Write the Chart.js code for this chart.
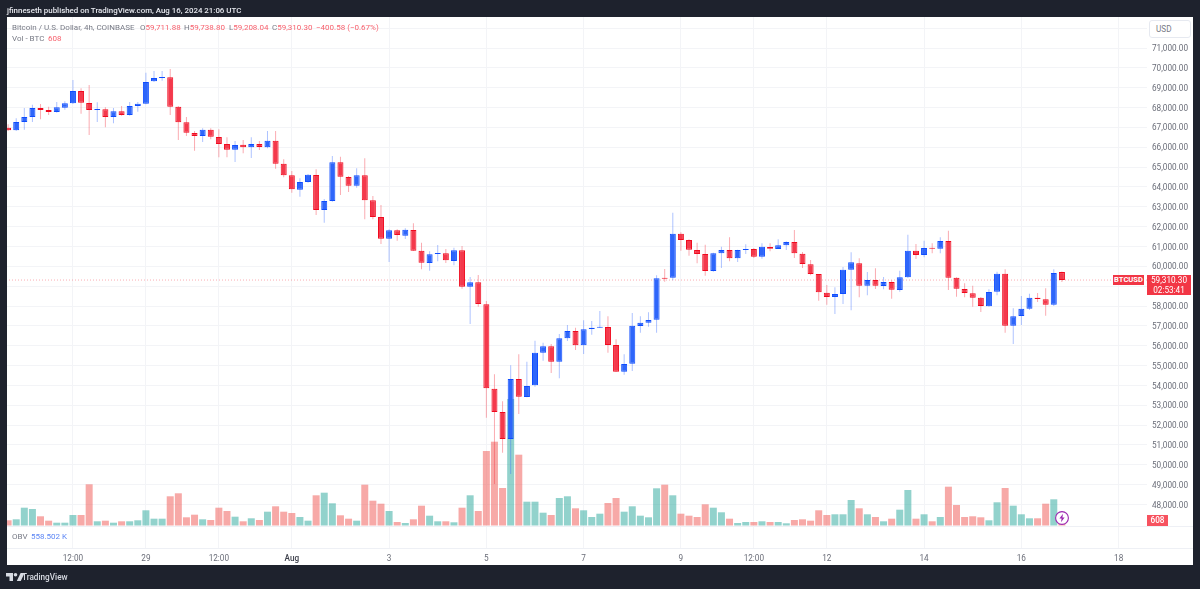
<!DOCTYPE html>
<html>
<head>
<meta charset="utf-8">
<title>BTCUSD 4h</title>
<script src="https://cdn.jsdelivr.net/npm/chart.js@4/dist/chart.umd.min.js"></script>
<style>
  html, body { margin: 0; padding: 0; }
  body { width: 1200px; height: 589px; background: #1e222d; overflow: hidden; position: relative; font-family: Roboto, sans-serif; }
  #panel { position: absolute; left: 7px; top: 17px; width: 1186px; height: 548px; background: #fff; }
  .rule { position: absolute; height: 1px; background: #eef0f5; }
  canvas { position: absolute; left: 0; top: 0; }
  .t { position: absolute; white-space: nowrap; font-size: 8px; line-height: 11px; color: #787b86; }
  .r { color: #f7626e; }
  .tag { position: absolute; background: #f23645; color: #fff; font-size: 8.2px; text-align: center; white-space: nowrap; }
  #usd { position: absolute; left: 1149px; top: 20px; width: 40px; height: 16px; border: 1px solid #e6e9f0; border-radius: 3px; background: #fff; box-sizing: content-box; color: #787b86; font-size: 8.2px; line-height: 16px; text-indent: 6px; }
  #badge { position: absolute; width: 16px; height: 16px; }
</style>
</head>
<body>
<div id="panel"></div>
<div class="rule" style="left:7px;top:548px;width:1186px"></div>
<div class="rule" style="left:1147px;top:526px;width:46px"></div>
<canvas id="chart" width="1200" height="589"></canvas>

<div class="t" style="left:7px;top:5px;color:#e6e8ee;font-size:7.9px;font-weight:500">jfinneseth published on TradingView.com, Aug 16, 2024 21:06 UTC</div>
<div class="t" style="left:12px;top:22px">Bitcoin / U.S. Dollar, 4h, COINBASE</div>
<div class="t" style="left:140px;top:22px">O<span class="r">59,711.88</span></div>
<div class="t" style="left:184px;top:22px">H<span class="r">59,738.80</span></div>
<div class="t" style="left:229px;top:22px">L<span class="r">59,208.04</span></div>
<div class="t" style="left:272px;top:22px">C<span class="r">59,310.30</span></div>
<div class="t r" style="left:316px;top:22px">−400.58 (−0.67%)</div>
<div class="t" style="left:12px;top:33px">Vol - BTC</div>
<div class="t r" style="left:48px;top:33px">608</div>
<div class="t" style="left:12px;top:531px">OBV</div>
<div class="t" style="left:31px;top:531px;color:#5c86f5">558.502 K</div>
<div id="usd">USD</div>

<div class="tag" id="symbolTag" style="left:1113px;width:31px;height:10px;line-height:10px;font-weight:700;font-size:7.6px">BTCUSD</div>
<div class="tag" id="priceTag" style="left:1147px;width:44px;height:20px;line-height:10px">59,310.30<br>02:53:41</div>
<div class="tag" id="volTag" style="left:1147px;width:21px;height:11px;line-height:11px;background:#f7525f;font-weight:500">608</div>

<svg id="badge" viewBox="0 0 16 16">
  <circle cx="8" cy="8" r="6.4" fill="#fff" stroke="#9c27b0" stroke-width="1.1"/>
  <path d="M9 3.8 5.4 8.6h2.2L7 12.2l3.6-4.8H8.4z" fill="#9c27b0"/>
</svg>

<svg style="position:absolute;left:6px;top:573px" width="19" height="8" viewBox="0 0 19 8" fill="#d8dbe3">
  <path d="M0 0h7v8H3.5V3.5H0z"/><circle cx="9.5" cy="1.8" r="1.8"/><path d="M14.6 0h4l-3.8 8h-4z"/>
</svg>
<div class="t" style="left:22px;top:572px;color:#d8dbe3;font-size:8.2px;font-weight:500">TradingView</div>

<script>
// 4h candles, Jul 26 04:00 through Aug 16 20:00
const opens = [
  66986, 66852, 67271, 67523, 67977, 67876, 67775, 67994, 68212, 68833,
  68229, 67876, 67910, 67523, 67809, 67624, 68078, 68195, 69320, 69488,
  69522, 68044, 67255, 66717, 66566, 66885, 66516, 66163, 65878, 66130,
  65995, 66163, 65995, 66331, 65172, 64585, 63863, 64249, 64602, 62838,
  63292, 65240, 64501, 64064, 64585, 63325, 62486, 61394, 61814, 61545,
  61831, 60790, 60168, 60622, 60655, 60269, 60807, 58976, 59194, 58086,
  53837, 52662, 51301, 54324, 53417, 54005, 55651, 55970, 55197, 56373,
  56742, 56020, 56843, 56910, 56944, 56037, 54694, 55097, 56994, 57162,
  57313, 59412, 59429, 61646, 61327, 60823, 60621, 59765, 60655, 60823,
  60403, 60823, 60873, 60487, 60974, 60873, 61058, 61226, 60638, 60101,
  59614, 58673, 58455, 58606, 59832, 60151, 59026, 59311, 59009, 59211,
  58807, 59446, 60789, 60571, 60923, 60890, 61276, 59429, 58858, 58640,
  58421, 57985, 58724, 59630, 57011, 57498, 57867, 58421, 58337, 58069,
  59711.88
];
const highs = [
  67154, 67456, 67977, 68145, 68178, 68044, 68279, 68313, 69387, 68968,
  69136, 68262, 68010, 67977, 68078, 68279, 68279, 69757, 69841, 69841,
  69942, 68078, 67523, 66818, 66952, 66952, 66902, 66499, 66314, 66365,
  66499, 66314, 66818, 66818, 65391, 64803, 64434, 64652, 64887, 63393,
  65559, 65525, 64551, 64938, 65441, 63544, 63090, 61864, 61864, 61915,
  62167, 61193, 60756, 61075, 60874, 60941, 61025, 59463, 59564, 58254,
  54559, 53199, 55013, 55567, 55197, 56255, 56155, 56087, 56591, 57045,
  56910, 57280, 57246, 57750, 57481, 56323, 55567, 57649, 57481, 57683,
  59547, 59866, 62704, 61713, 61360, 61192, 61092, 60689, 60991, 61461,
  60840, 61109, 60924, 61159, 61159, 61360, 61260, 61831, 60722, 60319,
  59614, 59060, 58942, 59967, 60705, 60403, 59714, 59899, 59462, 59294,
  59782, 61595, 61125, 61293, 61158, 61461, 61797, 59446, 59143, 59026,
  58455, 58841, 59731, 59849, 57884, 58505, 58623, 58656, 58891, 59849,
  59738.80
];
const lows = [
  66818, 66818, 66885, 67271, 67406, 67624, 67742, 67893, 68178, 67691,
  66617, 67271, 67003, 67204, 67591, 67591, 67792, 68162, 69287, 69354,
  67624, 66365, 66566, 65827, 66264, 66398, 65491, 65491, 65256, 65693,
  65458, 65861, 65945, 64920, 64484, 63712, 63510, 64216, 62587, 62200,
  63258, 63594, 63745, 63964, 62368, 62368, 61125, 60219, 61294, 61377,
  60773, 59849, 59782, 60252, 60168, 60051, 58875, 57095, 57968, 52376,
  49035, 50613, 49538, 52561, 53400, 53938, 55248, 54626, 54358, 56239,
  55785, 55584, 56558, 56893, 55651, 54677, 54543, 54727, 56658, 56961,
  56658, 59228, 59295, 60789, 60538, 60151, 59530, 59732, 59916, 60252,
  60218, 60622, 60420, 60386, 60756, 60873, 60823, 60420, 59916, 59547,
  58270, 58069, 57599, 58103, 57783, 58438, 58539, 58858, 58841, 58371,
  58723, 59412, 60369, 60453, 60655, 60655, 58807, 58472, 58438, 57968,
  57699, 57968, 58539, 56658, 56087, 57044, 57800, 58203, 57514, 58001,
  59208.04
];
const closes = [
  66852, 67271, 67523, 67977, 67876, 67775, 68010, 68212, 68833, 68245,
  67876, 67926, 67523, 67809, 67624, 68078, 68195, 69287, 69488, 69539,
  68044, 67255, 66734, 66566, 66885, 66533, 66163, 65878, 66113, 65995,
  66163, 66012, 66331, 65172, 64585, 63880, 64249, 64619, 62838, 63292,
  65240, 64518, 64064, 64585, 63325, 62486, 61394, 61814, 61579, 61848,
  60790, 60185, 60605, 60672, 60303, 60807, 58976, 59194, 58103, 53854,
  52662, 51301, 54324, 53434, 53971, 55651, 55970, 55197, 56373, 56742,
  56020, 56826, 56910, 56944, 56037, 54694, 55080, 57011, 57162, 57296,
  59396, 59379, 61646, 61327, 60840, 60621, 59765, 60655, 60823, 60403,
  60823, 60873, 60487, 60991, 60890, 61058, 61226, 60655, 60118, 59614,
  58690, 58455, 58606, 59832, 60202, 59026, 59311, 59026, 59211, 58824,
  59446, 60789, 60571, 60923, 60890, 61276, 59429, 58875, 58656, 58421,
  58001, 58707, 59630, 57011, 57481, 57867, 58421, 58354, 58069, 59664,
  59310.30
];
const volumes = [
  1226, 1440, 3935, 3655, 2086, 1140, 710, 710, 2365, 2365,
  8966, 1010, 1140, 710, 1010, 1010, 1226, 3376, 1570, 1570,
  6386, 7031, 1870, 2430, 1440, 1290, 3935, 3225, 2000, 1010,
  1656, 1290, 3075, 4236, 3075, 2795, 1935, 1140, 6600, 7160,
  4880, 2300, 1570, 1140, 8880, 5440, 4795, 3225, 860, 645,
  1440, 4365, 2215, 1010, 1010, 795, 3935, 6600, 3225, 16125,
  18125, 8170, 27305, 15330, 5225, 5225, 2860, 2365, 6020, 6386,
  3805, 3376, 1935, 2645, 4945, 6020, 3075, 4236, 2215, 1870,
  8105, 8880, 6600, 2645, 2215, 1935, 4666, 3935, 2946, 1570,
  645, 860, 860, 1010, 860, 860, 580, 1290, 1440, 1140,
  3376, 2365, 2516, 2516, 5590, 3805, 2516, 1935, 1010, 1570,
  3505, 7740, 1570, 2516, 1010, 1935, 8450, 4515, 1935, 2086,
  1870, 1226, 5096, 8170, 4365, 2516, 1656, 1656, 4795, 5740,
  608
];
const xTickIdx = [8, 17, 26, 35, 47, 59, 71, 83, 92, 101, 113, 125, 137];
const xTickLabels = ["12:00", "29", "12:00", "Aug", "3", "5", "7", "9", "12:00", "12", "14", "16", "18"];
const priceTicks = [72000, 71000, 70000, 69000, 68000, 67000, 66000, 65000, 64000, 63000, 62000, 61000,
  60000, 59000, 58000, 57000, 56000, 55000, 54000, 53000, 52000, 51000, 50000, 49000, 48000];

const last = closes.length - 1;
const isUp = i => closes[i] >= opens[i];
const isMonth = ctx => ctx.tick && xTickLabels[xTickIdx.indexOf(ctx.tick.value)] === "Aug";

const bodies = opens.map((o, i) => ({ x: i, y: [o, closes[i]] }));
const wicks = lows.map((l, i) => ({ x: i, y: [l, highs[i]] }));
const volBars = volumes.map((v, i) => ({ x: i, y: v }));

const chart = new Chart(document.getElementById("chart"), {
  type: "bar",
  data: {
    datasets: [
      {
        label: "Volume",
        data: volBars,
        yAxisID: "vol",
        order: 4,
        barThickness: 7,
        inflateAmount: 0,
        backgroundColor: volBars.map((b, i) => isUp(i) ? "rgba(38,166,154,0.5)" : "rgba(239,83,80,0.5)"),
      },
      {
        type: "line",
        label: "Last",
        data: [{ x: -1, y: closes[last] }, { x: 141, y: closes[last] }],
        yAxisID: "y",
        order: 3,
        borderColor: "rgba(242,54,69,0.42)",
        borderWidth: 1,
        borderDash: [1, 2],
        pointRadius: 0,
      },
      {
        label: "Wick",
        data: wicks,
        yAxisID: "y",
        order: 2,
        barThickness: 1,
        inflateAmount: 0,
        backgroundColor: wicks.map((w, i) => isUp(i) ? "rgba(41,98,255,0.38)" : "rgba(242,54,69,0.42)"),
      },
      {
        label: "Body",
        data: bodies,
        yAxisID: "y",
        order: 1,
        barThickness: 6,
        minBarLength: 1,
        inflateAmount: 0,
        borderWidth: 1,
        borderSkipped: false,
        backgroundColor: bodies.map((b, i) => isUp(i) ? "#2e66fa" : "#f4394c"),
        borderColor: bodies.map((b, i) => isUp(i) ? "#0f4dff" : "#f00a1e"),
      },
    ],
  },
  options: {
    responsive: false,
    animation: false,
    events: [],
    layout: { padding: { left: 7, top: 17, right: 0, bottom: 0 } },
    plugins: { legend: { display: false }, tooltip: { enabled: false } },
    datasets: { bar: { grouped: false } },
    scales: {
      x: {
        type: "linear",
        offset: false,
        min: -0.136,
        max: 140.5,
        grid: { offset: false, color: "#f3f4f7", drawTicks: false },
        border: { display: false },
        afterBuildTicks: axis => { axis.ticks = xTickIdx.map(v => ({ value: v })); },
        afterFit: axis => { axis.height = 41; },
        ticks: {
          autoSkip: false,
          maxRotation: 0,
          padding: 6,
          color: ctx => isMonth(ctx) ? "#3c3f4a" : "#6b6e79",
          font: ctx => ({ family: "Roboto", size: 8.2, weight: isMonth(ctx) ? "500" : "400" }),
          callback: v => xTickLabels[xTickIdx.indexOf(v)],
        },
      },
      y: {
        position: "right",
        min: 45811,
        max: 72562,
        grid: { color: "#f3f4f7", drawTicks: false },
        border: { display: false },
        afterBuildTicks: axis => { axis.ticks = priceTicks.map(v => ({ value: v })); },
        afterFit: axis => { axis.width = 53; },
        ticks: {
          autoSkip: false,
          padding: 5,
          labelOffset: 1,
          color: "#6b6e79",
          font: { family: "Roboto", size: 8.2 },
          // 72,000 sits under the currency box
          callback: v => v > 71000 ? "" : v.toLocaleString("en-US", { minimumFractionDigits: 2 }),
        },
      },
      // pane split sits at zero volume
      vol: {
        position: "left",
        min: -4730,
        max: 109435,
        grid: { color: "#eef0f5", drawTicks: false },
        border: { display: false },
        afterBuildTicks: axis => { axis.ticks = [{ value: 0 }]; },
        afterFit: axis => { axis.width = 0; },
        ticks: { display: false },
      },
    },
  },
});

// axis tags follow the last candle
const priceY = chart.scales.y.getPixelForValue(closes[last]);
const volY = chart.scales.vol.getPixelForValue(0);
const lastX = chart.scales.x.getPixelForValue(last);
document.getElementById("symbolTag").style.top = (priceY - 5) + "px";
document.getElementById("priceTag").style.top = (priceY - 5) + "px";
document.getElementById("volTag").style.top = (volY - 11) + "px";
document.getElementById("badge").style.left = (lastX - 8) + "px";
document.getElementById("badge").style.top = (volY - 16) + "px";
</script>
</body>
</html>
